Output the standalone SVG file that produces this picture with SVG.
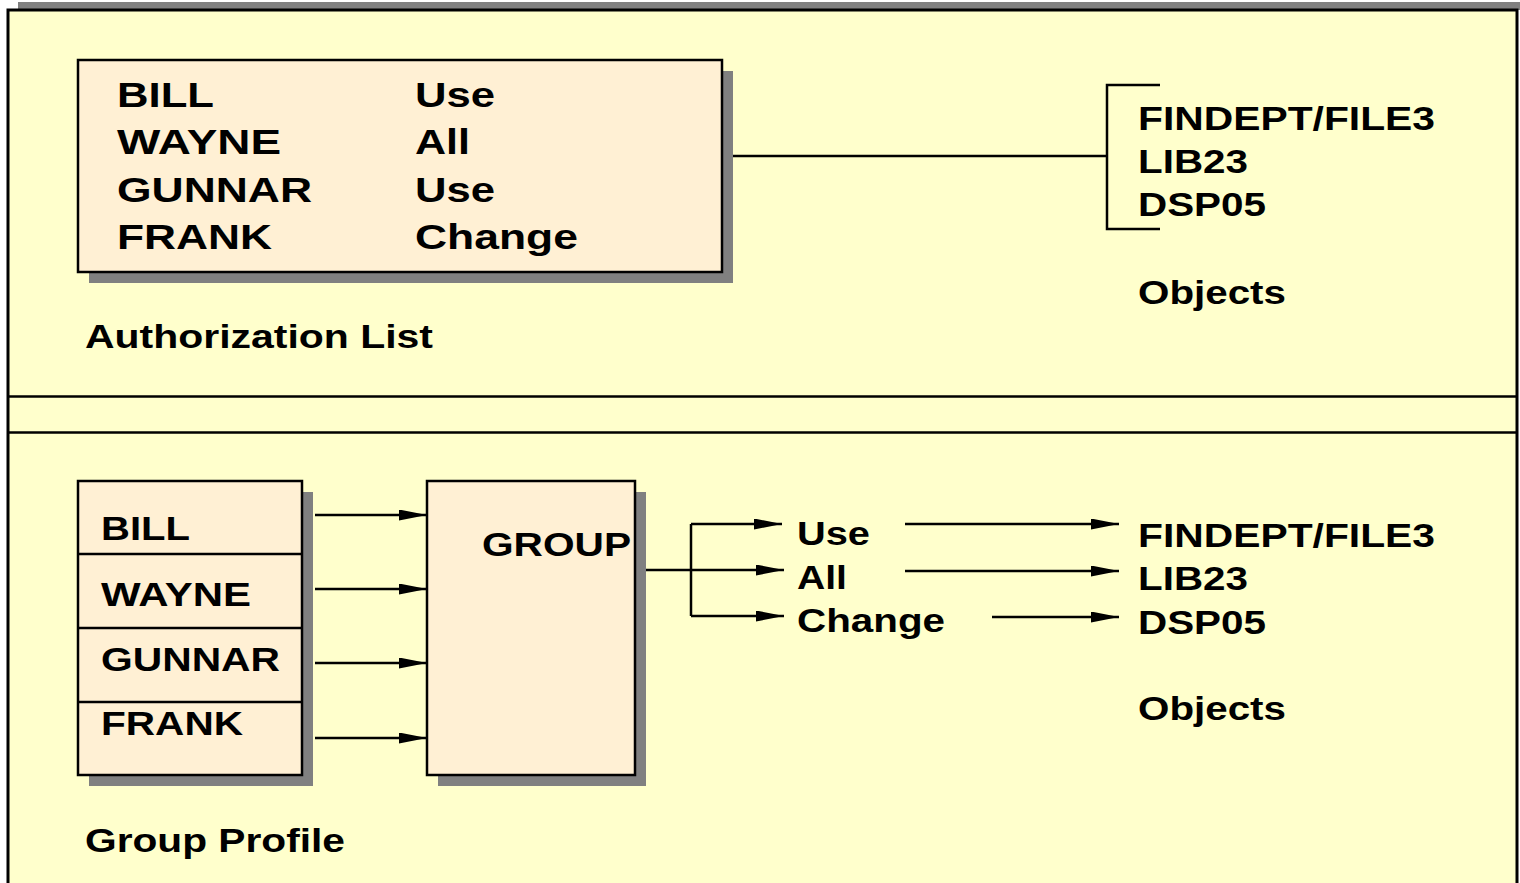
<svg xmlns="http://www.w3.org/2000/svg" width="1520" height="883" viewBox="0 0 1520 883">
  <defs>
    <style>
      .frame { fill: #FFFFCC; stroke: #000; stroke-width: 3; }
      .box { fill: #FFF0D4; stroke: #000; stroke-width: 2.5; }
      .shadow { fill: #808080; }
      .ln { fill: none; stroke: #000; stroke-width: 2.5; }
      .t { font-family: "Liberation Sans", Arial, sans-serif; font-weight: bold; font-size: 34px; fill: #000; }
      .tb { font-family: "Liberation Sans", Arial, sans-serif; font-weight: bold; font-size: 35px; fill: #000; }
    </style>
    <marker id="arr" markerWidth="28" markerHeight="11" refX="28" refY="5.5" orient="auto" markerUnits="userSpaceOnUse">
      <path d="M0,0 L28,5.5 L0,11 Z" fill="#000"/>
    </marker>
  </defs>

  <!-- page frame with top shadow bar -->
  <rect x="18" y="2" width="1502" height="8" class="shadow"/>
  <rect x="8" y="10" width="1509" height="890" class="frame"/>

  <!-- section separators -->
  <g id="separators">
    <line x1="8" y1="396.5" x2="1516" y2="396.5" stroke="#000" stroke-width="2.5"/>
    <line x1="8" y1="432.5" x2="1516" y2="432.5" stroke="#000" stroke-width="2.5"/>
  </g>

  <!-- Authorization list -->
  <g id="auth-list">
    <rect x="89" y="71" width="644" height="212" class="shadow"/>
    <rect x="78" y="60" width="644" height="212" class="box"/>
    <text class="tb" x="117" y="107" textLength="97" lengthAdjust="spacingAndGlyphs">BILL</text>
    <text class="tb" x="117" y="154" textLength="164" lengthAdjust="spacingAndGlyphs">WAYNE</text>
    <text class="tb" x="117" y="202" textLength="195" lengthAdjust="spacingAndGlyphs">GUNNAR</text>
    <text class="tb" x="117" y="249" textLength="155" lengthAdjust="spacingAndGlyphs">FRANK</text>
    <text class="tb" x="415" y="107" textLength="80" lengthAdjust="spacingAndGlyphs">Use</text>
    <text class="tb" x="415" y="154" textLength="55" lengthAdjust="spacingAndGlyphs">All</text>
    <text class="tb" x="415" y="202" textLength="80" lengthAdjust="spacingAndGlyphs">Use</text>
    <text class="tb" x="415" y="249" textLength="163" lengthAdjust="spacingAndGlyphs">Change</text>
  </g>
  <text id="auth-label" class="t" x="85" y="348" textLength="348" lengthAdjust="spacingAndGlyphs">Authorization List</text>

  <g id="auth-objects">
    <text class="t" x="1138" y="130" textLength="297" lengthAdjust="spacingAndGlyphs">FINDEPT/FILE3</text>
    <text class="t" x="1138" y="173" textLength="110" lengthAdjust="spacingAndGlyphs">LIB23</text>
    <text class="t" x="1138" y="216" textLength="128" lengthAdjust="spacingAndGlyphs">DSP05</text>
    <text class="t" x="1138" y="304" textLength="148" lengthAdjust="spacingAndGlyphs">Objects</text>
  </g>

  <!-- Group profile -->
  <g id="group-members">
    <rect x="89" y="492" width="224" height="294" class="shadow"/>
    <rect x="78" y="481" width="224" height="294" class="box"/>
    <line x1="78" y1="554" x2="302" y2="554" class="ln"/>
    <line x1="78" y1="628" x2="302" y2="628" class="ln"/>
    <line x1="78" y1="702" x2="302" y2="702" class="ln"/>
    <text class="t" x="101" y="540" textLength="89" lengthAdjust="spacingAndGlyphs">BILL</text>
    <text class="t" x="101" y="606" textLength="150" lengthAdjust="spacingAndGlyphs">WAYNE</text>
    <text class="t" x="101" y="671" textLength="179" lengthAdjust="spacingAndGlyphs">GUNNAR</text>
    <text class="t" x="101" y="735" textLength="142" lengthAdjust="spacingAndGlyphs">FRANK</text>
  </g>

  <g id="group">
    <rect x="438" y="492" width="208" height="294" class="shadow"/>
    <rect x="427" y="481" width="208" height="294" class="box"/>
    <text class="t" x="482" y="556" textLength="149" lengthAdjust="spacingAndGlyphs">GROUP</text>
  </g>

  <g id="group-authorities">
    <text class="t" x="797" y="545" textLength="73" lengthAdjust="spacingAndGlyphs">Use</text>
    <text class="t" x="797" y="589" textLength="50" lengthAdjust="spacingAndGlyphs">All</text>
    <text class="t" x="797" y="632" textLength="148" lengthAdjust="spacingAndGlyphs">Change</text>
  </g>

  <g id="group-objects">
    <text class="t" x="1138" y="547" textLength="297" lengthAdjust="spacingAndGlyphs">FINDEPT/FILE3</text>
    <text class="t" x="1138" y="590" textLength="110" lengthAdjust="spacingAndGlyphs">LIB23</text>
    <text class="t" x="1138" y="634" textLength="128" lengthAdjust="spacingAndGlyphs">DSP05</text>
    <text class="t" x="1138" y="720" textLength="148" lengthAdjust="spacingAndGlyphs">Objects</text>
  </g>
  <text id="group-label" class="t" x="85" y="852" textLength="260" lengthAdjust="spacingAndGlyphs">Group Profile</text>

  <!-- connectors -->
  <g id="connectors">
    <line x1="733" y1="156" x2="1107" y2="156" class="ln"/>
    <path d="M1160,85 H1107 V229 H1160" class="ln"/>

    <line x1="315" y1="515" x2="427" y2="515" class="ln" marker-end="url(#arr)"/>
    <line x1="315" y1="589" x2="427" y2="589" class="ln" marker-end="url(#arr)"/>
    <line x1="315" y1="663" x2="427" y2="663" class="ln" marker-end="url(#arr)"/>
    <line x1="315" y1="738" x2="427" y2="738" class="ln" marker-end="url(#arr)"/>

    <line x1="646" y1="570" x2="784" y2="570" class="ln" marker-end="url(#arr)"/>
    <path d="M691,524 V616" class="ln"/>
    <line x1="691" y1="524" x2="782" y2="524" class="ln" marker-end="url(#arr)"/>
    <line x1="691" y1="616" x2="784" y2="616" class="ln" marker-end="url(#arr)"/>

    <line x1="905" y1="524" x2="1119" y2="524" class="ln" marker-end="url(#arr)"/>
    <line x1="905" y1="571" x2="1119" y2="571" class="ln" marker-end="url(#arr)"/>
    <line x1="992" y1="617" x2="1119" y2="617" class="ln" marker-end="url(#arr)"/>
  </g>
</svg>
